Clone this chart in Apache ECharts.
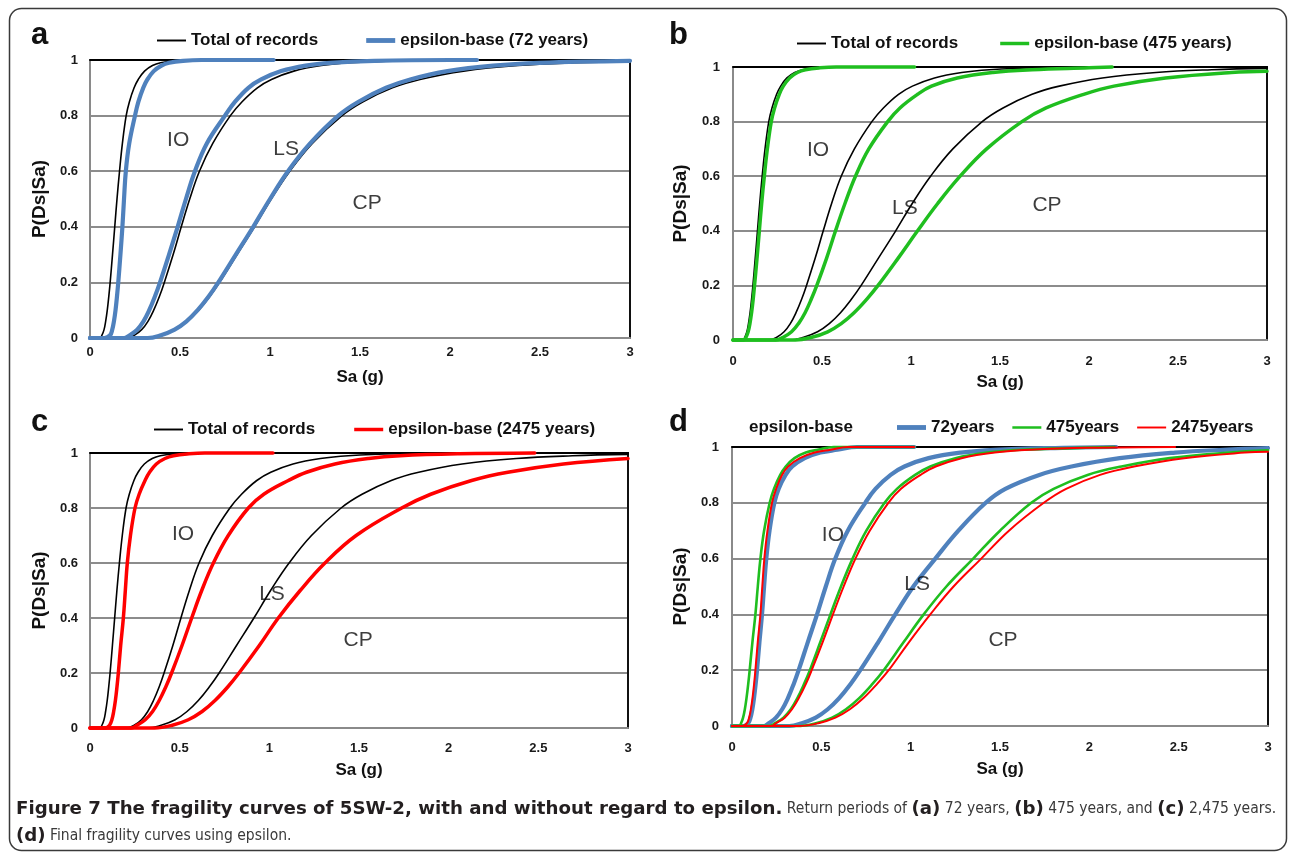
<!DOCTYPE html>
<html><head><meta charset="utf-8">
<script src="https://cdn.jsdelivr.net/npm/echarts@6/dist/echarts.min.js"></script>
<style>html,body{margin:0;padding:0;background:#fff}#c{width:1290px;height:854px}</style>
</head><body><div id="c"></div>
<script>
// ---------------- DATA ----------------
const xTickLabels = ['0', '0.5', '1', '1.5', '2', '2.5', '3'];
const yTickLabels = ['0', '0.2', '0.4', '0.6', '0.8', '1'];

// "Total of records" curves (same in panels a, b, c)
const totalIO = [[0,0],[0.055,0],[0.0665,0.01],[0.078,0.03],[0.087,0.06],[0.096,0.1],[0.1045,0.15],[0.112,0.2],[0.125,0.3],[0.1375,0.4],[0.15,0.5],[0.164,0.6],[0.18,0.7],[0.201,0.8],[0.219,0.85],[0.245,0.9],[0.268,0.93],[0.303,0.96],[0.347,0.98],[0.392,0.99],[0.474,0.997],[0.56,1],[3,1]];
const totalLS = [[0,0],[0.2,0],[0.246,0.01],[0.287,0.03],[0.322,0.06],[0.354,0.1],[0.386,0.15],[0.413,0.2],[0.462,0.3],[0.507,0.4],[0.554,0.5],[0.608,0.6],[0.682,0.7],[0.78,0.8],[0.845,0.85],[0.93,0.9],[1.008,0.93],[1.132,0.96],[1.285,0.98],[1.44,0.99],[1.72,0.997],[2.2,1],[3,1]];
const totalCP = [[0,0],[0.32,0],[0.397,0.01],[0.475,0.03],[0.541,0.06],[0.604,0.1],[0.666,0.15],[0.72,0.2],[0.817,0.3],[0.914,0.4],[1.007,0.5],[1.11,0.6],[1.235,0.7],[1.4,0.8],[1.517,0.85],[1.68,0.9],[1.833,0.93],[2.075,0.96],[2.377,0.98],[2.69,0.99],[3,0.995]];

// epsilon-base, 72 years (panel a)
const eps72IO = [[0,0],[0.08,0],[0.1116,0.01],[0.1236,0.03],[0.133,0.06],[0.1418,0.1],[0.15,0.15],[0.157,0.2],[0.169,0.3],[0.18,0.4],[0.189,0.5],[0.199,0.6],[0.218,0.7],[0.25,0.8],[0.269,0.85],[0.296,0.9],[0.319,0.93],[0.354,0.96],[0.397,0.98],[0.44,0.99],[0.517,0.997],[0.62,1],[1.02,1]];
const eps72LS = [[0,0],[0.19,0],[0.221,0.01],[0.262,0.03],[0.297,0.06],[0.329,0.1],[0.361,0.15],[0.389,0.2],[0.439,0.3],[0.487,0.4],[0.533,0.5],[0.583,0.6],[0.649,0.7],[0.75,0.8],[0.806,0.85],[0.88,0.9],[0.951,0.93],[1.062,0.96],[1.198,0.98],[1.336,0.99],[1.58,0.997],[2.0,1],[2.15,1]];
const eps72CP = [[0,0],[0.32,0],[0.394,0.01],[0.47,0.03],[0.536,0.06],[0.598,0.1],[0.66,0.15],[0.713,0.2],[0.81,0.3],[0.907,0.4],[1.0,0.5],[1.1,0.6],[1.223,0.7],[1.38,0.8],[1.492,0.85],[1.645,0.9],[1.779,0.93],[1.986,0.96],[2.24,0.98],[2.5,0.99],[3,0.997]];

// epsilon-base, 475 years (panel b)
const eps475IO = [[0,0],[0.06,0],[0.0732,0.01],[0.0851,0.03],[0.0951,0.06],[0.1044,0.1],[0.1135,0.15],[0.121,0.2],[0.135,0.3],[0.148,0.4],[0.161,0.5],[0.176,0.6],[0.193,0.7],[0.215,0.8],[0.2336,0.85],[0.26,0.9],[0.2825,0.93],[0.318,0.96],[0.362,0.98],[0.407,0.99],[0.488,0.997],[0.58,1],[1.02,1]];
const eps475LS = [[0,0],[0.24,0],[0.282,0.01],[0.329,0.03],[0.368,0.06],[0.405,0.1],[0.44,0.15],[0.471,0.2],[0.526,0.3],[0.576,0.4],[0.629,0.5],[0.688,0.6],[0.763,0.7],[0.869,0.8],[0.938,0.85],[1.037,0.9],[1.115,0.93],[1.26,0.96],[1.46,0.98],[1.68,0.99],[2.0,0.997],[2.13,1]];
const eps475CP = [[0,0],[0.35,0],[0.443,0.01],[0.532,0.03],[0.608,0.06],[0.68,0.1],[0.752,0.15],[0.815,0.2],[0.928,0.3],[1.037,0.4],[1.15,0.5],[1.276,0.6],[1.425,0.7],[1.623,0.8],[1.759,0.85],[1.97,0.9],[2.14,0.93],[2.43,0.96],[2.8,0.98],[3,0.984]];

// epsilon-base, 2475 years (panel c)
const eps2475IO = [[0,0],[0.085,0],[0.109,0.01],[0.122,0.03],[0.132,0.06],[0.1416,0.1],[0.1505,0.15],[0.158,0.2],[0.171,0.3],[0.186,0.4],[0.197,0.5],[0.208,0.6],[0.2256,0.7],[0.251,0.8],[0.274,0.85],[0.307,0.9],[0.332,0.93],[0.37,0.96],[0.418,0.98],[0.466,0.99],[0.552,0.997],[0.64,1],[1.02,1]];
const eps2475LS = [[0,0],[0.23,0],[0.261,0.01],[0.308,0.03],[0.349,0.06],[0.386,0.1],[0.423,0.15],[0.455,0.2],[0.513,0.3],[0.567,0.4],[0.623,0.5],[0.688,0.6],[0.771,0.7],[0.883,0.8],[0.969,0.85],[1.106,0.9],[1.207,0.93],[1.366,0.96],[1.554,0.98],[1.73,0.99],[2.06,0.997],[2.48,1]];
const eps2475CP = [[0,0],[0.36,0],[0.459,0.01],[0.548,0.03],[0.625,0.06],[0.697,0.1],[0.769,0.15],[0.831,0.2],[0.944,0.3],[1.05,0.4],[1.172,0.5],[1.31,0.6],[1.484,0.7],[1.738,0.8],[1.9,0.85],[2.128,0.9],[2.33,0.93],[2.64,0.96],[3,0.98]];

// final curves (panel d)
const final72IO = [[0,0],[0.065,0],[0.091,0.01],[0.1036,0.03],[0.1138,0.06],[0.1232,0.1],[0.1324,0.15],[0.14,0.2],[0.1535,0.3],[0.168,0.4],[0.1796,0.5],[0.192,0.6],[0.21,0.7],[0.237,0.8],[0.261,0.85],[0.3,0.9],[0.337,0.93],[0.407,0.96],[0.495,0.98],[0.59,0.99],[0.7,1],[1.02,1]];
const final72LS = [[0,0],[0.18,0],[0.206,0.01],[0.246,0.03],[0.281,0.06],[0.313,0.1],[0.345,0.15],[0.373,0.2],[0.424,0.3],[0.476,0.4],[0.525,0.5],[0.578,0.6],[0.648,0.7],[0.746,0.8],[0.803,0.85],[0.888,0.9],[0.965,0.93],[1.1,0.96],[1.28,0.98],[1.47,0.99],[1.85,0.997],[2.15,1]];
const final72CP = [[0,0],[0.32,0],[0.391,0.01],[0.469,0.03],[0.536,0.06],[0.6,0.1],[0.663,0.15],[0.718,0.2],[0.818,0.3],[0.914,0.4],[1.015,0.5],[1.138,0.6],[1.267,0.7],[1.42,0.8],[1.53,0.85],[1.72,0.9],[1.9,0.93],[2.17,0.96],[2.48,0.98],[2.75,0.99],[3,0.996]];
const final475IO = [[0,0],[0.04,0],[0.0507,0.01],[0.062,0.03],[0.0719,0.06],[0.0812,0.1],[0.0907,0.15],[0.099,0.2],[0.1142,0.3],[0.131,0.4],[0.1444,0.5],[0.159,0.6],[0.1796,0.7],[0.211,0.8],[0.2348,0.85],[0.27,0.9],[0.3006,0.93],[0.3496,0.96],[0.413,0.98],[0.48,0.99],[0.57,1],[1.02,1]];
const final475LS = [[0,0],[0.21,0],[0.241,0.01],[0.288,0.03],[0.329,0.06],[0.366,0.1],[0.403,0.15],[0.436,0.2],[0.494,0.3],[0.551,0.4],[0.61,0.5],[0.675,0.6],[0.752,0.7],[0.854,0.8],[0.923,0.85],[1.025,0.9],[1.11,0.93],[1.25,0.96],[1.43,0.98],[1.62,0.99],[1.95,0.997],[2.14,1]];
const final475CP = [[0,0],[0.36,0],[0.469,0.01],[0.56,0.03],[0.638,0.06],[0.712,0.1],[0.785,0.15],[0.849,0.2],[0.96,0.3],[1.073,0.4],[1.2,0.5],[1.35,0.6],[1.5,0.7],[1.675,0.8],[1.8,0.85],[1.99,0.9],[2.18,0.93],[2.45,0.96],[2.78,0.98],[3,0.988]];
const final2475IO = [[0,0],[0.06,0],[0.0839,0.01],[0.0958,0.03],[0.1057,0.06],[0.1148,0.1],[0.1236,0.15],[0.131,0.2],[0.144,0.3],[0.159,0.4],[0.1696,0.5],[0.181,0.6],[0.1985,0.7],[0.224,0.8],[0.2468,0.85],[0.28,0.9],[0.3144,0.93],[0.38,0.96],[0.4626,0.98],[0.552,0.99],[0.65,1],[1.02,1]];
const final2475LS = [[0,0],[0.22,0],[0.247,0.01],[0.295,0.03],[0.336,0.06],[0.374,0.1],[0.413,0.15],[0.446,0.2],[0.507,0.3],[0.565,0.4],[0.625,0.5],[0.691,0.6],[0.771,0.7],[0.875,0.8],[0.946,0.85],[1.055,0.9],[1.14,0.93],[1.285,0.96],[1.47,0.98],[1.67,0.99],[2.0,0.997],[2.48,1]];
const final2475CP = [[0,0],[0.37,0],[0.484,0.01],[0.579,0.03],[0.66,0.06],[0.736,0.1],[0.811,0.15],[0.877,0.2],[0.99,0.3],[1.11,0.4],[1.24,0.5],[1.395,0.6],[1.55,0.7],[1.745,0.8],[1.87,0.85],[2.06,0.9],[2.25,0.93],[2.53,0.96],[2.87,0.98],[3,0.983]];

const seriesNames = ['Total of records', 'epsilon-base (72 years)', 'epsilon-base (475 years)', 'epsilon-base (2475 years)', '72years', '475years', '2475years'];
const damageStates = ['IO', 'LS', 'CP'];

// ---------------- LAYOUT / STYLE ----------------
const F = "'Liberation Sans', Arial, sans-serif";
const COND = "'DejaVu Sans Condensed', 'Liberation Sans Narrow', sans-serif";
const BOLDCAP = "'DejaVu Sans', 'Liberation Sans', sans-serif";
const BLUE = '#4F81BD', GREEN = '#1FBE1F', RED = '#FF0000', BLACK = '#000000';

const panels = [
  { grid: {left: 90, top: 60, width: 540, height: 278}, xMargin: 8, xGap: 31, yMargin: 12, yGap: 41,
    letter: 'a', letterPos: [31, 50], ann: [[0.49, 0.71], [1.09, 0.68], [1.54, 0.486]] },
  { grid: {left: 733, top: 67, width: 534, height: 273}, xMargin: 15, xGap: 34, yMargin: 13, yGap: 43,
    letter: 'b', letterPos: [669, 50], ann: [[0.478, 0.695], [0.966, 0.481], [1.764, 0.493]] },
  { grid: {left: 90, top: 453, width: 538, height: 275}, xMargin: 14, xGap: 34, yMargin: 12, yGap: 41,
    letter: 'c', letterPos: [31, 437], ann: [[0.519, 0.703], [1.015, 0.488], [1.495, 0.318]] },
  { grid: {left: 732, top: 447, width: 536, height: 279}, xMargin: 15, xGap: 35, yMargin: 13, yGap: 42,
    letter: 'd', letterPos: [669, 437], ann: [[0.565, 0.684], [1.036, 0.508], [1.517, 0.307]] }
];

const grid = [], xAxis = [], yAxis = [], series = [], legend = [], graphic = [];

panels.forEach((p, i) => {
  grid.push(Object.assign({containLabel: false}, p.grid));
  xAxis.push({
    gridIndex: i, type: 'value', min: 0, max: 3, interval: 0.5, position: 'bottom',
    axisLine: {show: true, onZero: false, lineStyle: {color: '#8a8a8a', width: 2}},
    axisTick: {show: false}, splitLine: {show: false},
    axisLabel: {margin: p.xMargin, fontFamily: F, fontWeight: 'bold', fontSize: 13, color: '#1a1a1a',
      formatter: v => xTickLabels[Math.round(v * 2)]},
    name: 'Sa (g)', nameLocation: 'middle', nameGap: p.xGap,
    nameTextStyle: {fontFamily: F, fontWeight: 'bold', fontSize: 17, color: '#111'}
  });
  xAxis.push({
    gridIndex: i, type: 'value', min: 0, max: 3, position: 'top',
    axisLine: {show: true, onZero: false, lineStyle: {color: '#000', width: 2}},
    axisTick: {show: false}, axisLabel: {show: false}, splitLine: {show: false}
  });
  yAxis.push({
    gridIndex: i, type: 'value', min: 0, max: 1, interval: 0.2,
    axisLine: {show: true, onZero: false, lineStyle: {color: '#8a8a8a', width: 2}},
    axisTick: {show: false},
    splitLine: {show: true, lineStyle: {color: '#8c8c8c', width: 2}},
    axisLabel: {margin: p.yMargin, fontFamily: F, fontWeight: 'bold', fontSize: 13, color: '#1a1a1a',
      formatter: v => yTickLabels[Math.round(v * 5)]},
    name: 'P(Ds|Sa)', nameLocation: 'middle', nameGap: p.yGap,
    nameTextStyle: {fontFamily: F, fontWeight: 'bold', fontSize: 19, color: '#111'}
  });
  yAxis.push({
    gridIndex: i, type: 'value', min: 0, max: 1, position: 'right',
    axisLine: {show: true, onZero: false, lineStyle: {color: '#111', width: 2}},
    axisTick: {show: false}, axisLabel: {show: false}, splitLine: {show: false}
  });

  // damage-state annotations
  series.push({
    type: 'scatter', xAxisIndex: 2 * i, yAxisIndex: 2 * i, symbolSize: 0, silent: true, z: 10,
    data: p.ann.map((c, k) => ({value: c, name: damageStates[k]})),
    label: {show: true, position: 'inside', formatter: '{b}', fontFamily: F, fontSize: 21, color: '#0d0d0d'}
  });

  graphic.push({type: 'text', left: p.letterPos[0], top: p.letterPos[1] - 30,
    style: {text: p.letter, font: "bold 31px 'Liberation Sans', Arial, sans-serif", fill: '#111'}});
});

function line(panel, name, data, color, width, z) {
  series.push({
    type: 'line', name, data, xAxisIndex: 2 * panel, yAxisIndex: 2 * panel,
    smooth: 0.4, showSymbol: false, symbol: 'none', clip: false, z: z,
    color: color, itemStyle: {color: color},
    lineStyle: {color: color, width: width, join: 'round', cap: 'round'}, emphasis: {disabled: true}
  });
}

// panel a
[totalIO, totalLS, totalCP].forEach(d => line(0, seriesNames[0], d, BLACK, 1.6, 3));
[eps72IO, eps72LS, eps72CP].forEach(d => line(0, seriesNames[1], d, BLUE, 4.2, 4));
// panel b
[totalIO, totalLS, totalCP].forEach(d => line(1, seriesNames[0], d, BLACK, 1.6, 3));
[eps475IO, eps475LS, eps475CP].forEach(d => line(1, seriesNames[2], d, GREEN, 3.5, 4));
// panel c
[totalIO, totalLS, totalCP].forEach(d => line(2, seriesNames[0], d, BLACK, 1.6, 3));
[eps2475IO, eps2475LS, eps2475CP].forEach(d => line(2, seriesNames[3], d, RED, 3.5, 4));
// panel d
[final72IO, final72LS, final72CP].forEach(d => line(3, seriesNames[4], d, BLUE, 4.2, 3));
[final475IO, final475LS, final475CP].forEach(d => line(3, seriesNames[5], d, GREEN, 2.6, 4));
[final2475IO, final2475LS, final2475CP].forEach(d => line(3, seriesNames[6], d, RED, 2, 5));

const THIN = 'path://M0,0H30V2H0Z', THICK = 'path://M0,0H30V5H0Z', MED = 'path://M0,0H30V3.6H0Z', MED2 = 'path://M0,0H30V2.6H0Z';
const legText = {fontFamily: F, fontWeight: 'bold', fontSize: 17, color: '#111'};
function leg(left, top, items, gap) {
  legend.push({left, top, itemWidth: 29, itemHeight: 14, itemGap: gap, selectedMode: false,
    textStyle: legText, padding: 0,
    data: items.map(([name, icon]) => ({name, icon}))});
}
leg(157, 32, [[seriesNames[0], THIN], [seriesNames[1], THICK]], 48);
leg(797, 35, [[seriesNames[0], THIN], [seriesNames[2], MED]], 42);
leg(154, 421, [[seriesNames[0], THIN], [seriesNames[3], MED]], 39);
leg(897, 419, [[seriesNames[4], THICK], [seriesNames[5], MED2], [seriesNames[6], THIN]], 18);

graphic.push({type: 'text', left: 749, top: 419,
  style: {text: 'epsilon-base', font: "bold 17px 'Liberation Sans', Arial, sans-serif", fill: '#111'}});

// outer frame
graphic.push({type: 'rect', left: 7, top: 6, z: -1, silent: true,
  shape: {width: 1277, height: 842, r: 12},
  style: {fill: 'none', stroke: '#3a3a3a', lineWidth: 1.5}});

// caption
graphic.push({type: 'text', left: 16, top: 800, silent: true,
  style: {
    text: '{b|Figure 7 The fragility curves of 5SW-2, with and without regard to epsilon.}{r| Return periods of }{b|(a)}{r| 72 years, }{b|(b)}{r| 475 years, and }{b|(c)}{r| 2,475 years.}\n{b|(d)}{r| Final fragility curves using epsilon.}',
    rich: {
      b: {fontFamily: BOLDCAP, fontWeight: 'bold', fontSize: 18.2, fill: '#231f20', lineHeight: 27},
      r: {fontFamily: COND, fontSize: 15.5, fill: '#3a3a3a', lineHeight: 27}
    }
  }});

const chart = echarts.init(document.getElementById('c'), null, {renderer: 'canvas'});
chart.setOption({
  animation: false, backgroundColor: '#fff',
  grid, xAxis, yAxis, series, legend, graphic
});
</script></body></html>
